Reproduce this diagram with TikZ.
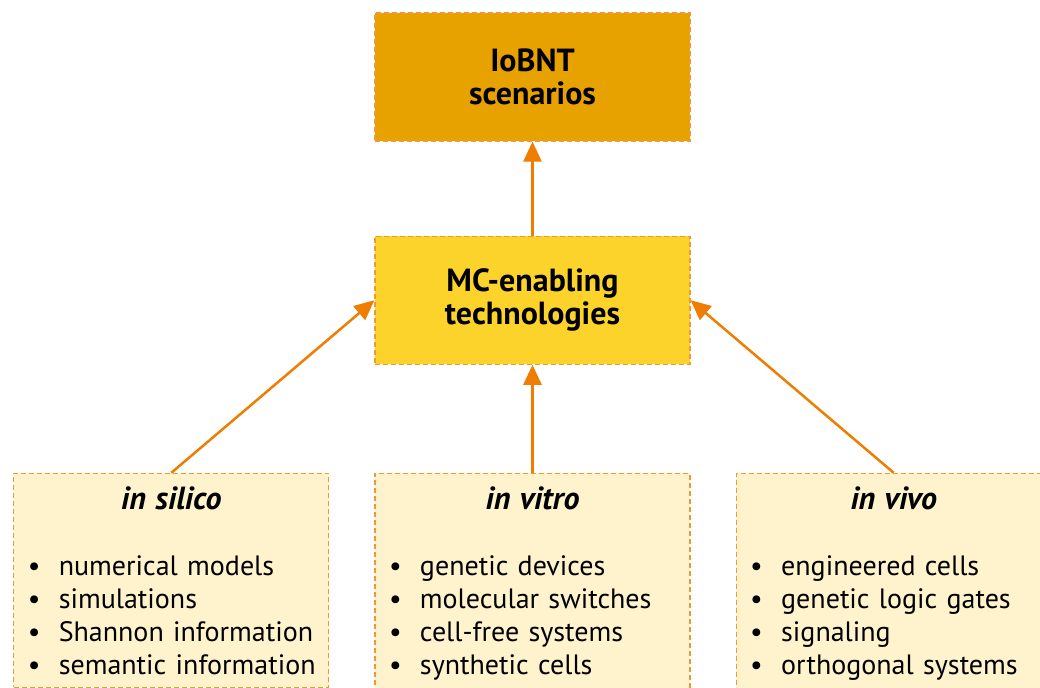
\documentclass[tikz,border=0pt]{standalone}
\usepackage{fontspec}
\setmainfont{PT Sans}
\usetikzlibrary{arrows.meta,positioning}
\definecolor{mcorange}{RGB}{238,125,0}
\definecolor{scencol}{RGB}{232,162,0}
\definecolor{techcol}{RGB}{252,211,42}
\definecolor{listcol}{RGB}{255,243,205}
\tikzstyle{box}=[draw=mcorange!80,dash pattern=on 2.5pt off 1.5pt,line width=0.6pt,minimum width=157.5pt,text width=143.5pt,inner xsep=7pt,font=\fontsize{14}{16.5}\selectfont]
\tikzstyle{topbox}=[box,align=center,minimum height=64pt,font=\fontsize{16}{16.5}\selectfont\bfseries]
\tikzstyle{listbox}=[box,align=left,fill=listcol,inner ysep=6.5pt]
\tikzstyle{arrow1}=[mcorange,line width=1.25pt,-{Triangle[length=10pt,width=9pt]}]
\newcommand{\drawarrows}[2][\empty]{
	\foreach \a/\b in {#2}{
		\draw[#1] (\a) -- (\b);
	}
}
\newcommand{\listhead}[1]{\makebox[\hsize]{\fontsize{16}{16.5}\selectfont\bfseries\itshape #1}}
\newcommand{\li}[1]{\makebox[15.5pt][l]{\textbullet}\mbox{#1}}

\begin{document}
\begin{tikzpicture}
\useasboundingbox (0,0) rectangle (520pt,-344pt);
\clip (0,0) rectangle (520pt,-344pt);
\node [topbox,fill=scencol] (scen) at (266.25pt,-38.5pt) {IoBNT\\scenarios};
\node [topbox,fill=techcol,below=47pt of scen] (tech) {MC-enabling\\technologies};
\node [listbox,below=54pt of tech] (vitro) {\listhead{in vitro}\\[16.5pt]
	\li{genetic devices}\\ \li{molecular switches}\\ \li{cell-free systems}\\ \li{synthetic cells}};
\node [listbox,left=22.5pt of vitro.north west,anchor=north east] (silico) {\listhead{in silico}\\[16.5pt]
	\li{numerical models}\\ \li{simulations}\\ \li{Shannon information}\\ \li{semantic information}};
\node [listbox,right=22.5pt of vitro.north east,anchor=north west] (vivo) {\listhead{in vivo}\\[16.5pt]
	\li{engineered cells}\\ \li{genetic logic gates}\\ \li{signaling}\\ \li{orthogonal systems}};

\drawarrows[arrow1]{tech.north/scen.south,vitro.north/tech.south,silico.north/tech.west,vivo.north/tech.east}
\end{tikzpicture}
\end{document}
